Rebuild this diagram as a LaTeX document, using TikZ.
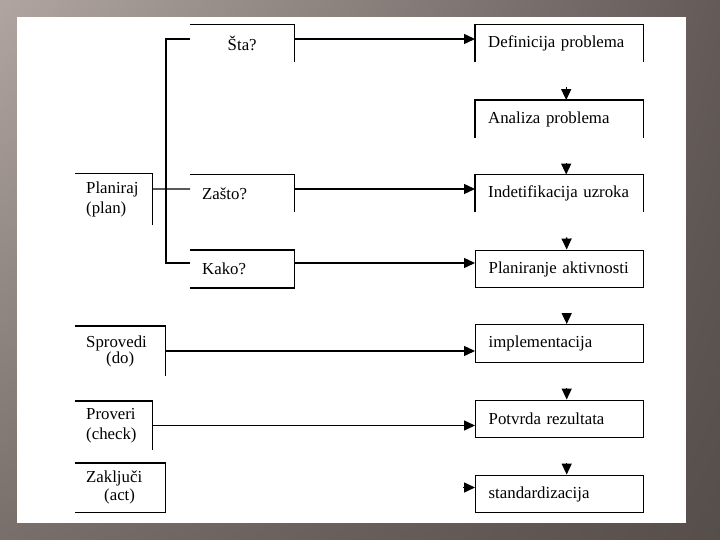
\documentclass[tikz,border=0pt]{standalone}
\usepackage{fontspec}
\setmainfont{Liberation Serif}
\usetikzlibrary{arrows.meta,shadings}
\definecolor{cadreA}{RGB}{176,165,160}
\definecolor{cadreB}{RGB}{100,91,88}
\definecolor{cadreC}{RGB}{120,110,106}
\definecolor{cadreD}{RGB}{86,78,75}

\begin{document}
\begin{tikzpicture}[x=1bp,y=-1bp]
    % Styles
    \tikzstyle{trait}=[line width=1.4bp]
    \tikzstyle{fleche}=[-{Triangle[length=11bp,width=10bp]},line width=1.4bp]
    \tikzstyle{pointe}=[fleche,shorten <=25bp]
    \tikzstyle{texte}=[font=\fontsize{16.8bp}{20bp}\selectfont]
    \tikzstyle{etape}=[texte,rectangle,anchor=west,inner xsep=13bp,inner ysep=0pt,text width=142bp,minimum height=37.5bp,align=left]
    \tikzstyle{etapeF}=[etape,draw,line width=1.4bp]
    \tikzstyle{question}=[texte,rectangle,anchor=west,inner xsep=12bp,inner ysep=0pt,text width=80bp,minimum height=37.5bp,align=left]
    \tikzstyle{phase}=[texte,rectangle,anchor=west,inner xsep=11bp,inner ysep=0pt,text width=55bp,align=left]
    \tikzstyle{phaseL}=[phase,text width=68bp]
    % Dimensions
    \def\ColonneA{75}
    \def\ColonneB{190}
    \def\ColonneC{475}
    % Cadre
    \useasboundingbox (0,0) rectangle (720,540);
    \shade[upper left=cadreA,upper right=cadreB,lower left=cadreC,lower right=cadreD] (0,0) rectangle (720,540);
    \fill[white] (17,17) rectangle (686,523);
    % Noeuds
    \node[etape] (Def) at (\ColonneC,43.5) {Definicija problema};
    \node[etape] (Ana) at (\ColonneC,119) {Analiza problema};
    \node[etape] (Indet) at (\ColonneC,193.5) {Indetifikacija uzroka};
    \node[etapeF] (PlanAct) at (\ColonneC,269) {Planiranje aktivnosti};
    \node[etapeF] (Impl) at (\ColonneC,343.5) {implementacija};
    \node[etapeF] (Potv) at (\ColonneC,419) {Potvrda rezultata};
    \node[etapeF] (Stand) at (\ColonneC,494) {standardizacija};

    \node[question,align=center] (Sta) at (\ColonneB,43.5) {Šta?};
    \node[question] (Zasto) at (\ColonneB,193.5) {Zašto?};
    \node[question] (Kako) at (\ColonneB,269) {Kako?};

    \node[phase,minimum height=51bp] (Plan) at (\ColonneA,199.5) {Planiraj\\(plan)};
    \node[phaseL,minimum height=50bp] (Spr) at (\ColonneA,351) {Sprovedi\\[-4bp]\hspace*{20bp}(do)};
    \node[phase,minimum height=49bp] (Prov) at (\ColonneA,425.5) {Proveri\\(check)};
    \node[phaseL,minimum height=49bp] (Zak) at (\ColonneA,487.5) {Zaključi\\[-2bp]\hspace*{18bp}(act)};
    % Bords
    \draw[trait] (Def.south west) |- (Def.north east) -- (Def.south east);
    \draw[trait] (Ana.south west) |- (Ana.north east) -- (Ana.south east);
    \draw[trait] (Indet.south west) |- (Indet.north east) -- (Indet.south east);
    \draw[trait] (Sta.north west) -- (Sta.north east) -- (Sta.south east);
    \draw[trait] (Zasto.north west) -- (Zasto.north east) -- (Zasto.south east);
    \draw[trait] (Kako.north west) -- (Kako.north east) |- (Kako.south west);
    \draw[trait] (Plan.north west) -- (Plan.north east) -- (Plan.south east);
    \draw[trait] (Spr.north west) -- (Spr.north east) -- (Spr.south east);
    \draw[trait] (Prov.north west) -- (Prov.north east) -- (Prov.south east);
    \draw[trait] (Zak.north west) -- (Zak.north east) |- (Zak.south west);
    % Arcs
    \draw[trait] ([yshift=4.5bp]Sta.west) -- ++(-24,0) |- ([yshift=6bp]Kako.west);
    \draw[trait] ([yshift=10.5bp]Plan.east) -- ([yshift=4.5bp]Zasto.west);

    \draw[fleche] ([yshift=4.5bp]Sta.east) -- ([yshift=4.5bp]Def.west);
    \draw[fleche] ([yshift=4.5bp]Zasto.east) -- ([yshift=4.5bp]Indet.west);
    \draw[fleche] ([yshift=6bp]Kako.east) -- ([yshift=6bp]PlanAct.west);
    \draw[fleche] (Spr.east) -- (Spr.east -| Impl.west);
    \draw[fleche] (Prov.east) -- (Prov.east -| Potv.west);
    \draw[fleche,shorten <=298bp] (Zak.east) -- (Zak.east -| Stand.west);

    \draw[pointe] ([xshift=7bp]Def.south) -- ([xshift=7bp]Ana.north);
    \draw[pointe] ([xshift=7bp]Ana.south) -- ([xshift=7bp]Indet.north);
    \draw[pointe] ([xshift=7bp]Indet.south) -- ([xshift=7bp]PlanAct.north);
    \draw[pointe] ([xshift=7bp]PlanAct.south) -- ([xshift=7bp]Impl.north);
    \draw[pointe] ([xshift=7bp]Impl.south) -- ([xshift=7bp]Potv.north);
    \draw[pointe] ([xshift=7bp]Potv.south) -- ([xshift=7bp]Stand.north);
\end{tikzpicture}
\end{document}
